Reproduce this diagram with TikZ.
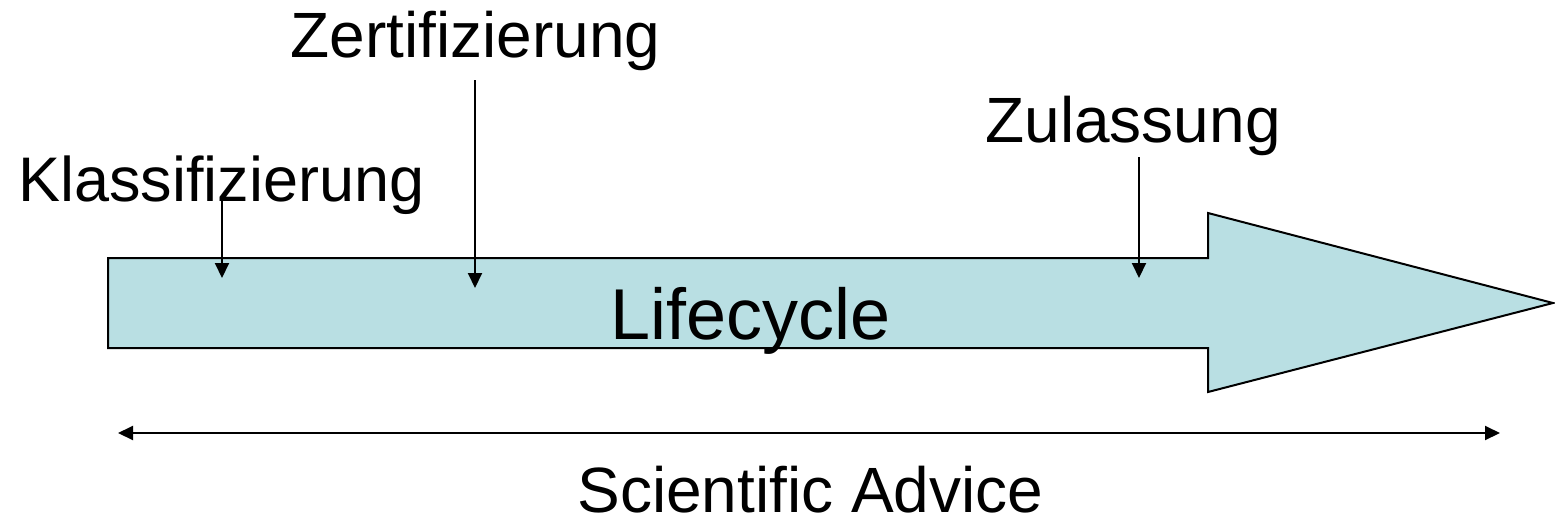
\documentclass[tikz,border=0pt]{standalone}
\usepackage{fontspec}
\setmainfont{Liberation Sans}
\usepackage{xcolor}
\usetikzlibrary{arrows.meta,calc,positioning}
\definecolor{lifeblue}{RGB}{185,223,227}

\begin{document}
\begin{tikzpicture}[x=0.5pt,y=-0.5pt,
		phase/.style={inner sep=0pt,anchor=base west,font=\fontsize{32}{38}\selectfont},
		pointer/.style={line width=1pt,-{Triangle[width=7pt,length=7.5pt]}}]
		\useasboundingbox (0,0) rectangle (1555,526);
		% big lifecycle arrow
		\draw[fill=lifeblue,line width=1pt] (108,258) -- (1208,258) -- (1208,213) -- (1553,303) -- (1208,392) -- (1208,348) -- (108,348) -- cycle;
		\node[phase,font=\fontsize{36}{43}\selectfont] (life) at (610,339) {Lifecycle};
		% steps
		\node[phase,font=\fontsize{31.5}{38}\selectfont] (klass) at (18,201) {Klassifizierung};
		\node[phase] (zert) at (290,57) {Zertifizierung};
		\node[phase] (zul) at (985,142) {Zulassung};
		\coordinate (klass-in) at (222,278);
		\coordinate (zert-in) at (475,288);
		\coordinate (zul-in) at (1139,278);
		\draw[pointer] (klass.base -| klass-in) -- (klass-in);
		\draw[pointer] ([yshift=-11.5pt]zert.base -| zert-in) -- (zert-in);
		\draw[pointer] ([yshift=-7.5pt]zul.base -| zul-in) -- (zul-in);
		% scientific advice
		\coordinate (adv-l) at (118,433);
		\coordinate (adv-r) at (1500,433);
		\draw[pointer,{Triangle[width=7pt,length=7.5pt]}-{Triangle[width=7pt,length=7.5pt]}] (adv-l) -- (adv-r);
		\node[phase] (adv) at (577,512) {Scientific Advice};
		\end{tikzpicture}
\end{document}
